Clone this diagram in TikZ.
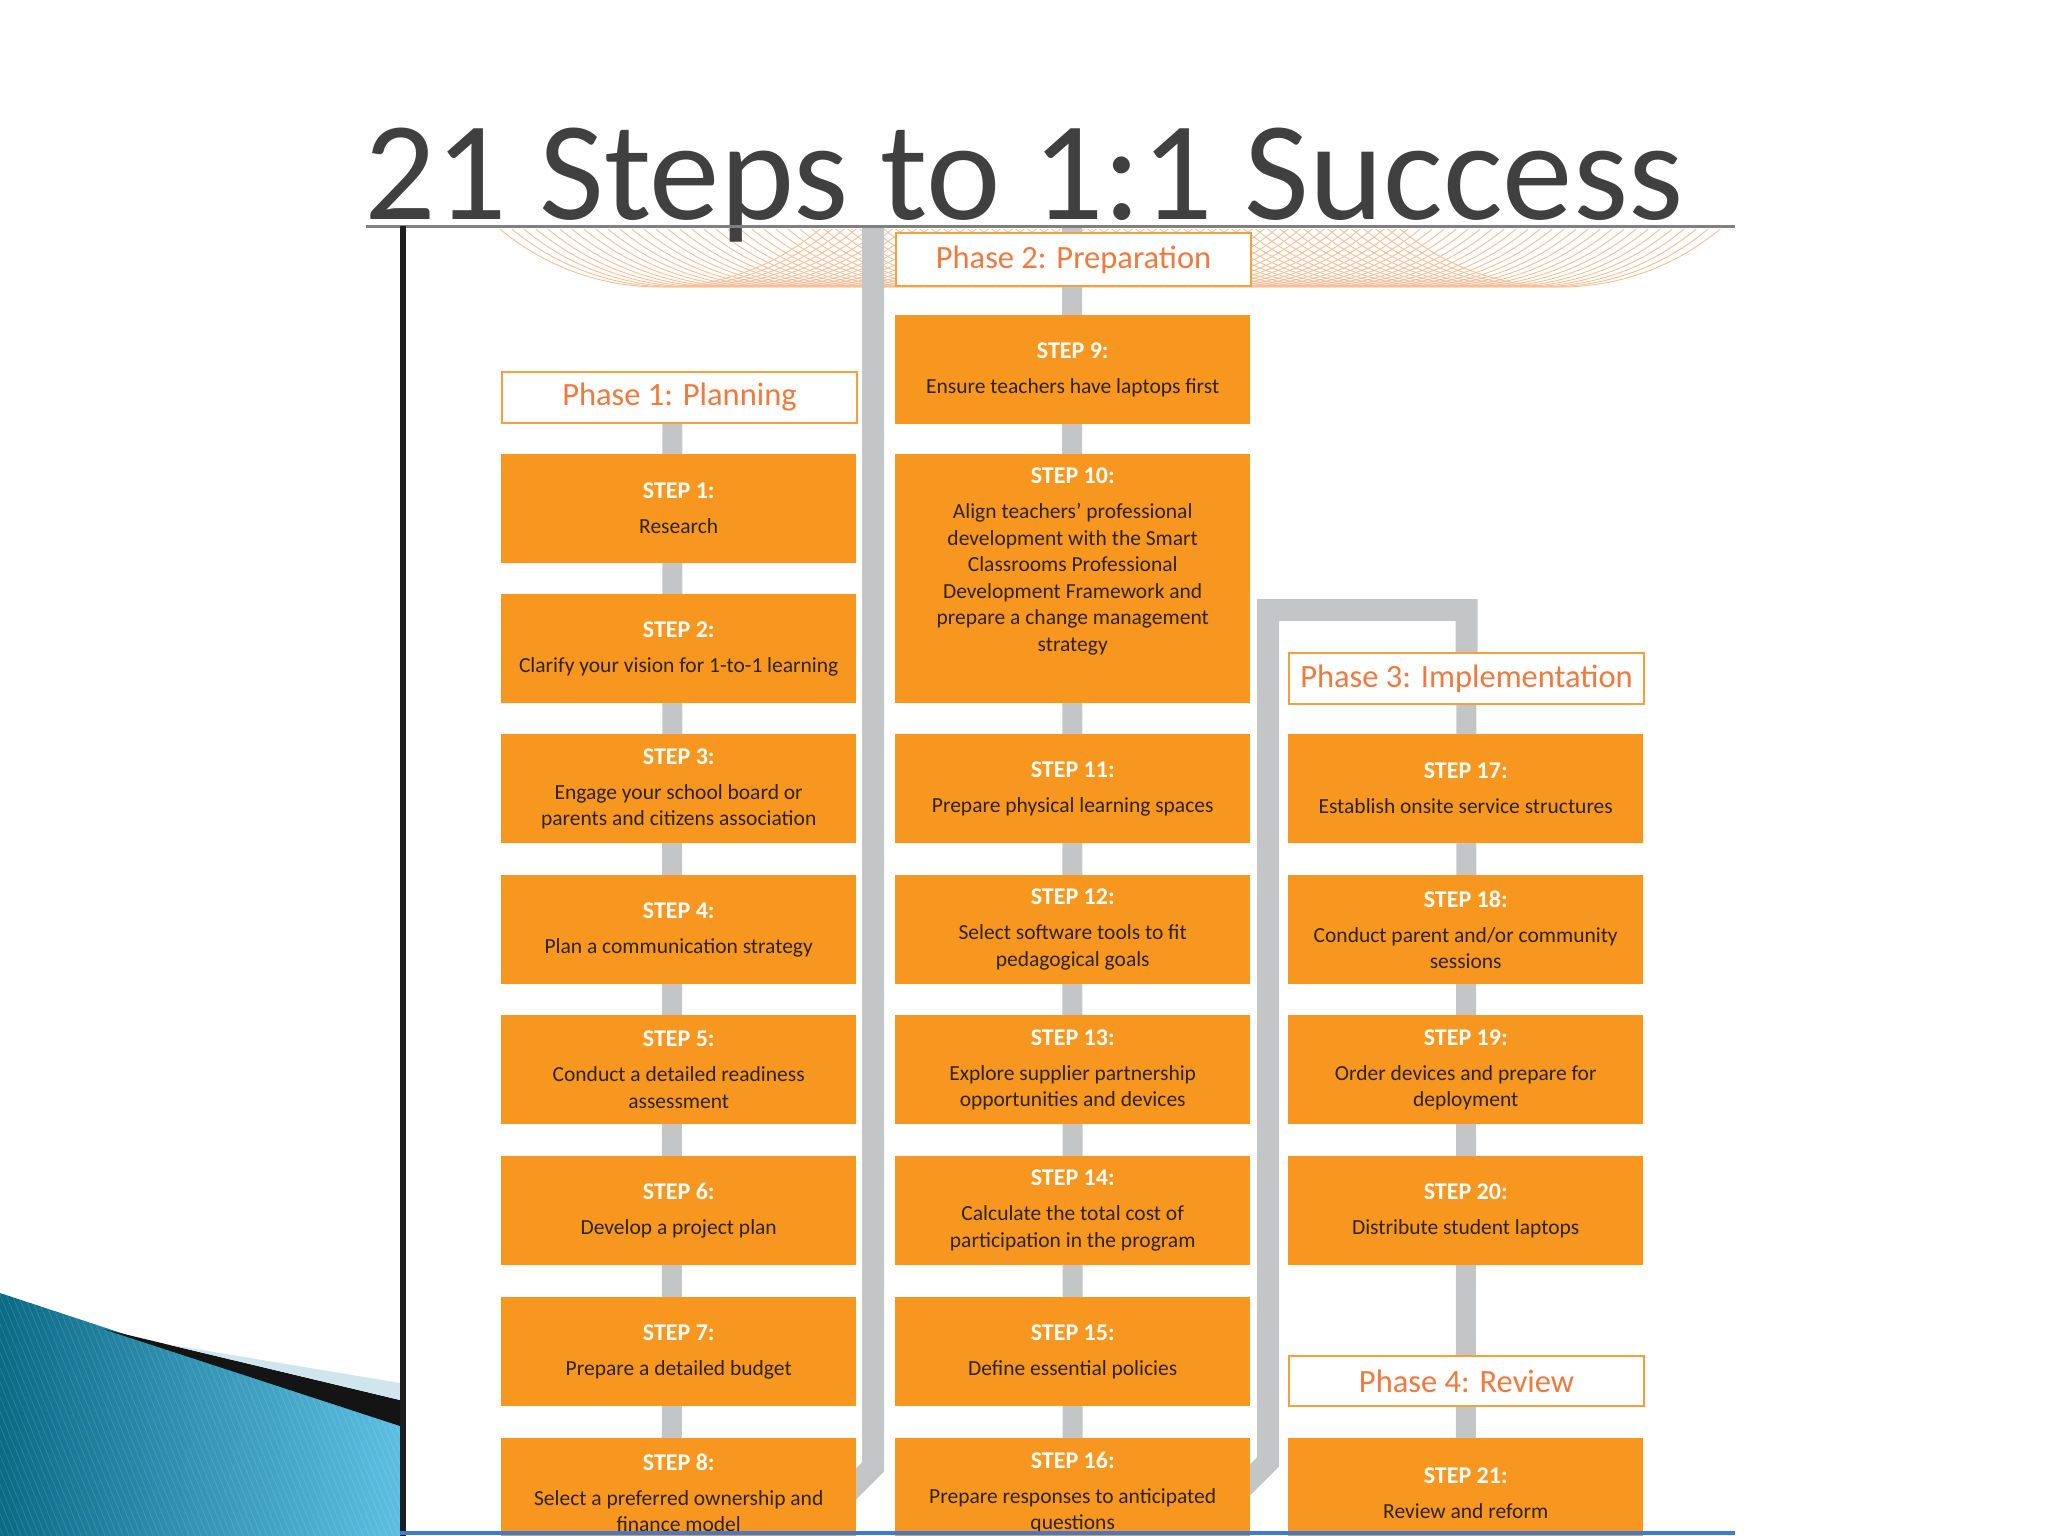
\documentclass[tikz,border=0pt]{standalone}
\usepackage{fontspec}
\setmainfont{Carlito}
\definecolor{boxor}{HTML}{F7971F}
\definecolor{phasetx}{HTML}{F07A3E}
\definecolor{phasebd}{HTML}{F5A040}
\definecolor{connc}{HTML}{C4C5C7}
\definecolor{desctx}{HTML}{2E2310}
\definecolor{titlegray}{HTML}{404040}
\definecolor{arcc}{HTML}{F8BE96}
\definecolor{bluedark}{HTML}{0B6A86}
\definecolor{bluelight}{HTML}{5CBFE2}
\definecolor{bluepale}{HTML}{CFE6EE}
\definecolor{bottomblue}{HTML}{3F7BD6}
\pgfdeclarelayer{back}
\pgfdeclarelayer{background}
\pgfsetlayers{back,background,main}
\newcommand{\stp}[2]{{\color{white}\fontsize{24}{26}\selectfont\bfseries #1}\\[8.5pt]#2}
\tikzset{
  stepbox/.style={fill=boxor, minimum width=355pt, minimum height=109pt, inner sep=0pt,
    anchor=north west, align=center, text=desctx, font=\fontsize{21.5}{26.5}\selectfont},
  phasebox/.style={draw=phasebd, line width=2pt, fill=white, minimum width=355pt,
    minimum height=51pt, inner sep=0pt, anchor=north west, text=phasetx,
    font=\fontsize{32.5}{36}\selectfont},
  bar/.style={draw=connc, line width=22pt, line join=miter},
}
\begin{document}
\begin{tikzpicture}[x=1pt,y=-1pt]
\useasboundingbox (0,0) rectangle (2048,1536);
\clip (0,0) rectangle (2048,1536);

% bottom-left decoration
\begin{scope}
  \clip (0,1293) -- (400,1425) -- (400,1536) -- (0,1536) -- cycle;
  \shade[left color=bluedark, right color=bluelight] (0,1290) rectangle (400,1536);
  \foreach \i in {-220,-214,...,400} \draw[white, opacity=0.13, line width=0.8pt] (\i,1285) -- ++(105,255);
\end{scope}
\fill[black!92] (103,1329) -- (400,1400) -- (400,1426) -- cycle;
\fill[bluepale] (166,1344) -- (400,1383) -- (400,1400) -- cycle;

% title
\node[font=\fontsize{141}{150}\selectfont, text=titlegray, anchor=base, inner sep=0pt, text depth=0pt] (title) at (1024,219) {21 Steps to 1:1 Success};

% phases
\node[phasebox] (p1) at (501,371) {Phase 1: Planning};
\node[phasebox, minimum height=53pt] (p2) at (895,232) {Phase 2: Preparation};
\node[phasebox] (p3) at (1288,652) {Phase 3: Implementation};
\node[phasebox, minimum height=50pt] (p4) at (1288,1355) {Phase 4: Review};

% column 1
\node[stepbox] (s1) at (501,454) {\stp{STEP 1:}{Research}};
\node[stepbox] (s2) at (501,594) {\stp{STEP 2:}{Clarify your vision for 1-to-1 learning}};
\node[stepbox] (s3) at (501,734) {\stp{STEP 3:}{Engage your school board or\\parents and citizens association}};
\node[stepbox] (s4) at (501,875) {\stp{STEP 4:}{Plan a communication strategy}};
\node[stepbox] (s5) at (501,1015) {\stp{STEP 5:}{Conduct a detailed readiness\\assessment}};
\node[stepbox] (s6) at (501,1156) {\stp{STEP 6:}{Develop a project plan}};
\node[stepbox] (s7) at (501,1297) {\stp{STEP 7:}{Prepare a detailed budget}};
\node[stepbox] (s8) at (501,1438) {\stp{STEP 8:}{Select a preferred ownership and\\finance model}};

% column 2
\node[stepbox] (s9) at (895,315) {\stp{STEP 9:}{Ensure teachers have laptops first}};
\node[stepbox, minimum height=249pt, label={[align=center, text=desctx, font=\fontsize{21.5}{26.5}\selectfont, yshift=17pt]center:{\stp{STEP 10:}{Align teachers' professional\\development with the Smart\\Classrooms Professional\\Development Framework and\\prepare a change management\\strategy}}}] (s10) at (895,454) {};
\node[stepbox] (s11) at (895,734) {\stp{STEP 11:}{Prepare physical learning spaces}};
\node[stepbox] (s12) at (895,875) {\stp{STEP 12:}{Select software tools to fit\\pedagogical goals}};
\node[stepbox] (s13) at (895,1015) {\stp{STEP 13:}{Explore supplier partnership\\opportunities and devices}};
\node[stepbox] (s14) at (895,1156) {\stp{STEP 14:}{Calculate the total cost of\\participation in the program}};
\node[stepbox] (s15) at (895,1297) {\stp{STEP 15:}{Define essential policies}};
\node[stepbox] (s16) at (895,1438) {\stp{STEP 16:}{Prepare responses to anticipated\\questions}};

% column 3
\node[stepbox] (s17) at (1288,734) {\stp{STEP 17:}{Establish onsite service structures}};
\node[stepbox] (s18) at (1288,875) {\stp{STEP 18:}{Conduct parent and/or community\\sessions}};
\node[stepbox] (s19) at (1288,1015) {\stp{STEP 19:}{Order devices and prepare for\\deployment}};
\node[stepbox] (s20) at (1288,1156) {\stp{STEP 20:}{Distribute student laptops}};
\node[stepbox] (s21) at (1288,1438) {\stp{STEP 21:}{Review and reform}};

% coordinates for connector ends
\coordinate (t1) at (873,226);
\coordinate (b1) at (873,1467);
\coordinate (e1) at (845,1495);
\coordinate (t2) at (1072,226);
\coordinate (k1) at (1268,610);
\coordinate (k2) at (1268,1462);
\coordinate (k3) at (1240,1490);

% decorative arcs
\begin{pgfonlayer}{back}
  \begin{scope}
    \clip (420,229) rectangle (1735,292);
    \foreach \c in {660,672,...,1570} \draw[arcc, line width=0.9pt] (\c,37) circle (250pt);
  \end{scope}
\end{pgfonlayer}

% connectors
\begin{pgfonlayer}{background}
  \draw[bar, line width=20pt] ([xshift=-7pt]p1.center) -- ([xshift=-7pt]s8.center);
  \draw[bar, line width=20pt] (t2) -- (s16.center);
  \draw[bar, line width=20pt] (p3.center) -- (s21.center);
  \draw[bar] (t1) -- (b1) -- (e1);
  \draw[bar] (p3.center) |- (k1) -- (k2) -- (k3);
\end{pgfonlayer}

% frame lines
\draw[line width=3pt, color=black!50] (366,226.5) -- (1735,226.5);
\draw[line width=6pt, color=black!88] (402.5,226) -- (402.5,1536);
\draw[line width=4.5pt, color=bottomblue] (400,1533) -- (1735,1533);
\end{tikzpicture}
\end{document}
